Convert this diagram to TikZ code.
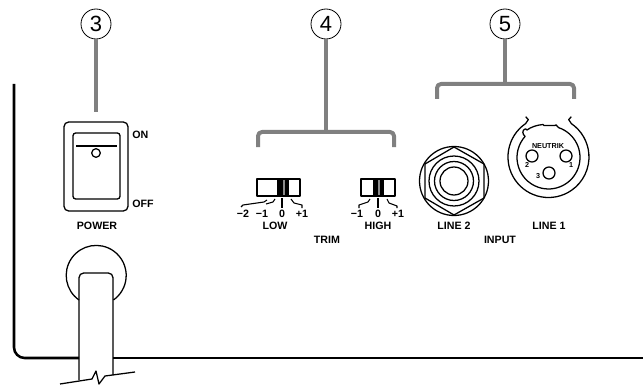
\documentclass[tikz,border=0pt]{standalone}
\usepackage{fontspec}
\setmainfont{Liberation Sans}
\begin{document}
\begin{tikzpicture}[x=0.75pt,y=-0.75pt,line join=round,
  thin line/.style={line width=0.95pt,black},
  frame line/.style={line width=1.9pt,black},
  leader/.style={line width=3pt,black!50},
  callout/.style={circle,draw,line width=0.6pt,minimum size=22.5pt,inner sep=0pt,font=\fontsize{16.5}{17}\selectfont},
  lab/.style={inner sep=0pt,font=\bfseries\fontsize{8}{9}\selectfont},
  tiny lab/.style={inner sep=0pt,font=\bfseries\fontsize{5.4}{6}\selectfont},
  tick line/.style={line width=0.8pt,black}]
\useasboundingbox (0,0) rectangle (643,385);
% chassis frame
\draw[frame line,rounded corners=8pt] (14,84) -- (14,358) -- (79,358);
\draw[frame line] (113,358) -- (643,358);
% callouts
\node[callout] (c3) at (96,24) {3};
\node[callout] (c4) at (326,24) {4};
\node[callout] (c5) at (505,24) {5};
\coordinate (e3) at (96,112);
\coordinate (t4) at (326,132);
\coordinate (t5) at (505,84);
\draw[leader] (c3.south) -- (e3);
\draw[leader] (c4.south) -- (t4);
\draw[leader] (c5.south) -- (t5);
\draw[leader,rounded corners=3pt] (258,147) -- (258,132) -- (394,132) -- (394,147);
\draw[leader,rounded corners=3pt] (437,99) -- (437,84) -- (574,84) -- (574,99);
% power switch
\draw[thin line,rounded corners=3.5pt] (64,122) rectangle (128,211);
\draw[thin line,rounded corners=2pt] (73,133) rectangle (120,199);
\draw[thin line] (76,146) -- (117,146);
\draw[thin line] (96,153) circle (4.3);
\node[lab,anchor=west] (on) at (132,135) {ON};
\node[lab,anchor=west] (off) at (132,204) {OFF};
\node[lab] (power) at (97,226) {POWER};
% cable
\draw[thin line] (79,300) arc[start angle=125,end angle=415,radius=30];
\draw[thin line,rounded corners=3.5pt] (79,380) -- (79,273) -- (113,273) -- (113,375);
\draw[thin line] (60,384) -- (92,379) -- (96,371) -- (99,384) -- (105,376) -- (135,372);
% trim low
\draw[thin line] (257,179) rectangle (300,196);
\fill[black] (277,180) rectangle (289,195);
\fill[black!45] (282.5,180) rectangle (284.5,195);
\draw[tick line] (282,198) -- (282,208);
\draw[tick line] (275,199) -- (273,202) -- (266,204);
\draw[tick line] (267,200) -- (264,202) -- (243,205) -- (241,207);
\draw[tick line] (291,199) -- (294,203) -- (302,205) -- (302,208);
\node[lab] (lm2) at (243,214) {−2};
\node[lab] (lm1) at (262,214) {−1};
\node[lab] (l0) at (282,214) {0};
\node[lab] (lp1) at (302,214) {+1};
\node[lab] (low) at (275,226) {LOW};
% trim high
\draw[thin line] (361,179) rectangle (395,196);
\fill[black] (373,180) rectangle (384,195);
\fill[black!45] (377.5,180) rectangle (379.5,195);
\draw[tick line] (378,198) -- (378,208);
\draw[tick line] (370,199) -- (368,202) -- (359,205) -- (359,208);
\draw[tick line] (387,199) -- (389,203) -- (397,206) -- (397,208);
\node[lab] (hm1) at (357,214) {−1};
\node[lab] (h0) at (378,214) {0};
\node[lab] (hp1) at (398,214) {+1};
\node[lab] (high) at (378,226) {HIGH};
\node[lab] (trim) at (327,240) {TRIM};
% jack
\draw[thin line] (454,181) circle (34.5);
\draw[thin line] (454,147) -- (484,164) -- (484,198) -- (454,215) -- (425,198) -- (425,164) -- cycle;
\draw[thin line] (454,181) circle (25);
\draw[thin line] (454,181) circle (19.5);
\draw[thin line] (454,181) circle (14);
\node[lab] (line2) at (454,226) {LINE 2};
% XLR outer ring with hooks
\draw[thin line] (525.7,116.7) -- (528.3,119.6) -- (525.6,123.6)
  arc[start angle=235.6,end angle=-55.6,radius=40.5] -- (568.7,119.6) -- (571.3,116.7);
% XLR inner contour with key and notch
\draw[thin line] (558.5,127.6) arc[start angle=-71.5,end angle=222,radius=31.5]
  .. controls (522.5,134.5) and (521.5,130) .. (525.5,128.8)
  -- (527,130) .. controls (531,127) and (537,125) .. (543,124.5)
  -- (544,125.5) -- (555,125.5) -- (556,124.8) -- cycle;
\draw[thin line] (532,156) circle (6);
\draw[thin line] (566,156) circle (6);
\draw[thin line] (549,173) circle (6);
\node[tiny lab] (neutrik) at (548,146) {NEUTRIK};
\node[tiny lab] (p2) at (527,165) {2};
\node[tiny lab] (p1) at (571,165) {1};
\node[tiny lab] (p3) at (538,176) {3};
\node[lab] (line1) at (549,226) {LINE 1};
\node[lab] (input) at (500,240) {INPUT};
\end{tikzpicture}
\end{document}
